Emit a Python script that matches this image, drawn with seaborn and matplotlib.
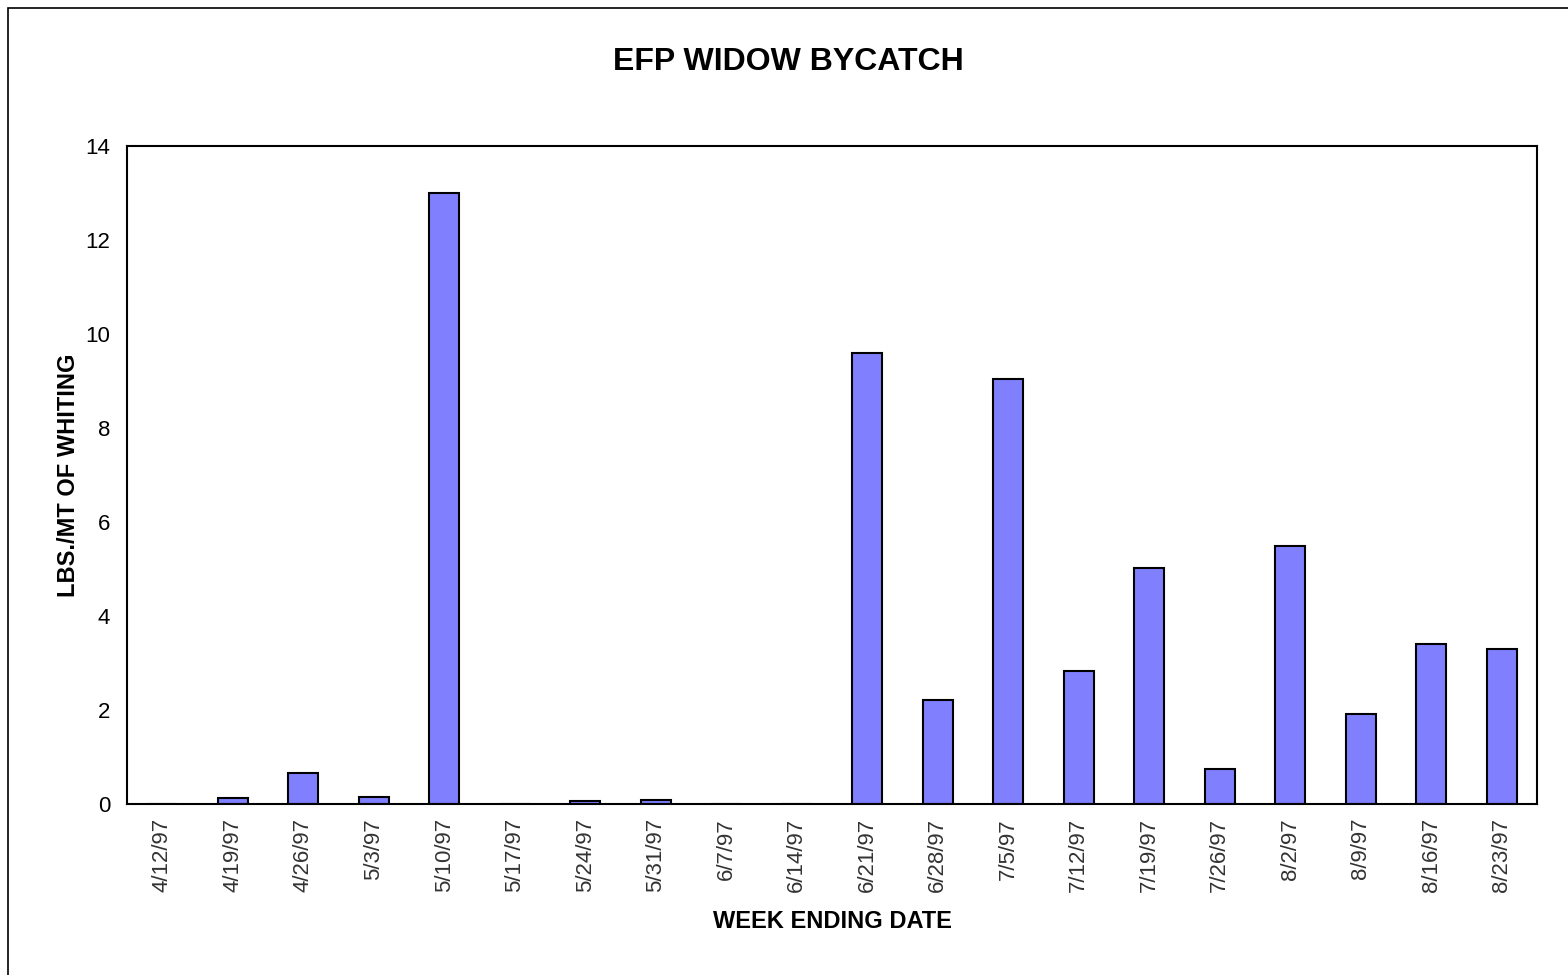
import matplotlib
matplotlib.use("Agg")
import matplotlib.pyplot as plt
import seaborn as sns
import pandas as pd

# week ending dates and bycatch rate (lbs / mt of whiting)
weeks = ["4/12/97", "4/19/97", "4/26/97", "5/3/97", "5/10/97", "5/17/97",
         "5/24/97", "5/31/97", "6/7/97", "6/14/97", "6/21/97", "6/28/97",
         "7/5/97", "7/12/97", "7/19/97", "7/26/97", "8/2/97", "8/9/97",
         "8/16/97", "8/23/97"]
rate = [0.0, 0.13, 0.65, 0.15, 13.0, 0.0,
        0.06, 0.09, 0.0, 0.0, 9.6, 2.22,
        9.05, 2.82, 5.03, 0.75, 5.5, 1.92,
        3.4, 3.3]

df = pd.DataFrame({"week": weeks, "rate": rate})

sns.set_style("white")
plt.rcParams["font.family"] = ["Liberation Sans", "DejaVu Sans"]
plt.rcParams["text.color"] = "black"
plt.rcParams["axes.labelcolor"] = "black"
plt.rcParams["xtick.color"] = "black"
plt.rcParams["ytick.color"] = "black"

fig = plt.figure(figsize=(15.68, 9.75), dpi=100)
ax = fig.add_axes([127 / 1568, 1 - 804 / 975, 1410 / 1568, 658 / 975])

sns.barplot(data=df, x="week", y="rate", color="#8080FF", saturation=1,
            width=0.42, edgecolor="black", linewidth=1.5, ax=ax)

ax.set_ylim(0, 14)
ax.set_xlim(-0.5, len(weeks) - 0.5)
ax.set_yticks(range(0, 15, 2))
ax.tick_params(axis="y", length=0, labelsize=16, pad=12)
ax.tick_params(axis="x", length=0, labelsize=16, pad=10, labelrotation=90)
for lbl in ax.get_xticklabels():
    lbl.set_verticalalignment("top")
    lbl.set_color("#333333")

for s in ax.spines.values():
    s.set_visible(True)
    s.set_color("black")
    s.set_linewidth(1.5)

ax.set_xlabel("WEEK ENDING DATE", fontsize=17, fontweight="bold", labelpad=13)
ax.set_ylabel("LBS./MT OF WHITING", fontsize=17, fontweight="bold", labelpad=4)
fig.text(0.503, 1 - 62 / 975, "EFP WIDOW BYCATCH", ha="center", va="center",
         fontsize=23, fontweight="bold")

# outer frame around the chart area (bottom edge falls outside the image)
border = plt.Rectangle((8 / 1568, -0.05), 1, 1.05 - 8 / 975, transform=fig.transFigure,
                       fill=False, edgecolor="black", linewidth=1.2)
fig.patches.append(border)

fig.savefig("out.png", dpi=100)
